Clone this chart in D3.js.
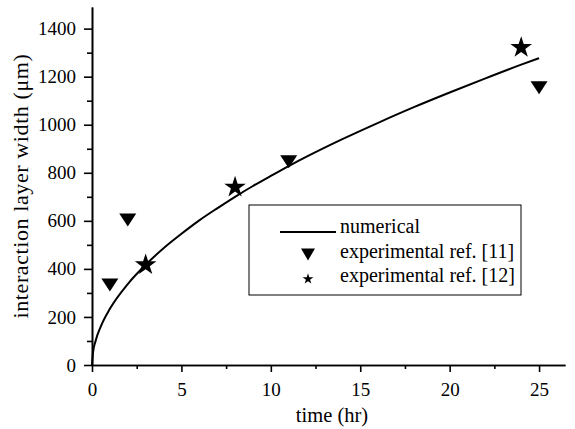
<!DOCTYPE html>
<html>
<head>
<meta charset="utf-8">
<script src="https://cdn.jsdelivr.net/npm/d3@7"></script>
<style>
  body { margin: 0; background: #fff; }
  svg { display: block; }
  svg text { font-family: "Times New Roman", "Liberation Serif", Tinos, "DejaVu Serif", serif; fill: #000; }
</style>
</head>
<body>
<svg id="chart" width="575" height="429"></svg>
<script>
// numerical solution
var numTime = [0, 0.05, 0.2, 0.5, 1, 2, 3, 4, 5, 6, 7, 8, 9, 10, 11, 12, 14, 16, 18, 20, 22, 24, 25];
var numWidth = [0, 48, 100, 162, 234, 337, 417, 486, 546, 602, 652, 700, 745, 787, 828, 867, 940, 1008, 1073, 1134, 1193, 1250, 1277];

// experimental ref. [11] (down triangles)
var ref11Time = [1, 2, 11, 25];
var ref11Width = [333, 604, 846, 1154];

// experimental ref. [12] (stars)
var ref12Time = [3, 8, 24];
var ref12Width = [417, 740, 1321];

var xMajor = [0, 5, 10, 15, 20, 25];
var xMinor = [2.5, 7.5, 12.5, 17.5, 22.5];
var yMajor = [0, 200, 400, 600, 800, 1000, 1200, 1400];
var yMinor = [100, 300, 500, 700, 900, 1100, 1300];

var legendLabels = ['numerical', 'experimental ref. [11]', 'experimental ref. [12]'];

var fontStack = '"Times New Roman", "Liberation Serif", Tinos, "DejaVu Serif", serif';
var svg = d3.select('#chart');

var x = d3.scaleLinear().domain([0, 26.45]).range([92, 565]);
var y = d3.scaleLinear().domain([0, 1490]).range([365, 7]);

// down-pointing triangle, w x h
function downTriangle(w, h) {
  return {
    draw: function(ctx) {
      ctx.moveTo(-w / 2, -h / 2);
      ctx.lineTo(w / 2, -h / 2);
      ctx.lineTo(0, h / 2);
      ctx.closePath();
    }
  };
}

// minor ticks first, then major with labels
svg.append('g').attr('transform', 'translate(0,' + y(0) + ')')
  .call(d3.axisBottom(x).tickValues(xMinor).tickSize(4).tickSizeOuter(0).tickFormat(''));
svg.append('g').attr('transform', 'translate(0,' + y(0) + ')')
  .call(d3.axisBottom(x).tickValues(xMajor).tickSize(7).tickSizeOuter(0).tickPadding(11)
    .tickFormat(d3.format('d')));

svg.append('g').attr('transform', 'translate(' + x(0) + ',0)')
  .call(d3.axisLeft(y).tickValues(yMinor).tickSize(5).tickSizeOuter(0).tickFormat(''));
svg.append('g').attr('transform', 'translate(' + x(0) + ',0)')
  .call(d3.axisLeft(y).tickValues(yMajor).tickSize(8).tickSizeOuter(0).tickPadding(8)
    .tickFormat(d3.format('d')));

svg.selectAll('g').attr('font-family', fontStack);
svg.selectAll('.domain').attr('stroke', '#000').attr('stroke-width', 1.6);
svg.selectAll('.tick line').attr('stroke', '#000').attr('stroke-width', 1.6);
svg.selectAll('.tick text').style('font-family', fontStack).style('font-size', '19px').attr('fill', '#000');

svg.append('text')
  .attr('x', 332).attr('y', 422)
  .attr('text-anchor', 'middle')
  .style('font-family', fontStack)
  .style('font-size', '20.5px')
  .text('time (hr)');

svg.append('text')
  .attr('transform', 'translate(28,186) rotate(-90)')
  .attr('text-anchor', 'middle')
  .style('font-family', fontStack)
  .style('font-size', '22px')
  .style('letter-spacing', '0.6px')
  .text('interaction layer width (\u03bcm)');

// numerical curve
var line = d3.line()
  .x(function(d, i) { return x(numTime[i]); })
  .y(function(d) { return y(d); })
  .curve(d3.curveMonotoneX);

svg.append('path')
  .datum(numWidth)
  .attr('d', line)
  .attr('fill', 'none')
  .attr('stroke', '#000')
  .attr('stroke-width', 2);

svg.selectAll('.ref11').data(ref11Width).enter().append('path')
  .attr('class', 'ref11')
  .attr('transform', function(d, i) { return 'translate(' + x(ref11Time[i]) + ',' + y(d) + ')'; })
  .attr('d', d3.symbol().type(downTriangle(17, 13)))
  .attr('fill', '#000');

svg.selectAll('.ref12').data(ref12Width).enter().append('path')
  .attr('class', 'ref12')
  .attr('transform', function(d, i) { return 'translate(' + x(ref12Time[i]) + ',' + y(d) + ')'; })
  .attr('d', d3.symbol().type(d3.symbolStar).size(145))
  .attr('fill', '#000');

// legend
var legend = svg.append('g').attr('transform', 'translate(249,205)');
legend.append('rect')
  .attr('x', 0).attr('y', 0).attr('width', 272).attr('height', 90)
  .attr('fill', '#fff').attr('stroke', '#000').attr('stroke-width', 1);

var rowBase = [28, 52.5, 77];
legend.append('line')
  .attr('x1', 31).attr('x2', 87).attr('y1', rowBase[0] - 1).attr('y2', rowBase[0] - 1)
  .attr('stroke', '#000').attr('stroke-width', 2);
legend.append('path')
  .attr('transform', 'translate(59,' + (rowBase[1] - 3) + ')')
  .attr('d', d3.symbol().type(downTriangle(14, 12)))
  .attr('fill', '#000');
legend.append('path')
  .attr('transform', 'translate(59,' + (rowBase[2] - 3) + ')')
  .attr('d', d3.symbol().type(d3.symbolStar).size(36))
  .attr('fill', '#000');

legend.selectAll('.lab').data(legendLabels).enter().append('text')
  .attr('class', 'lab')
  .attr('x', 91)
  .attr('y', function(d, i) { return rowBase[i]; })
  .style('font-family', fontStack)
  .style('font-size', '20px')
  .text(function(d) { return d; });
</script>
</body>
</html>
